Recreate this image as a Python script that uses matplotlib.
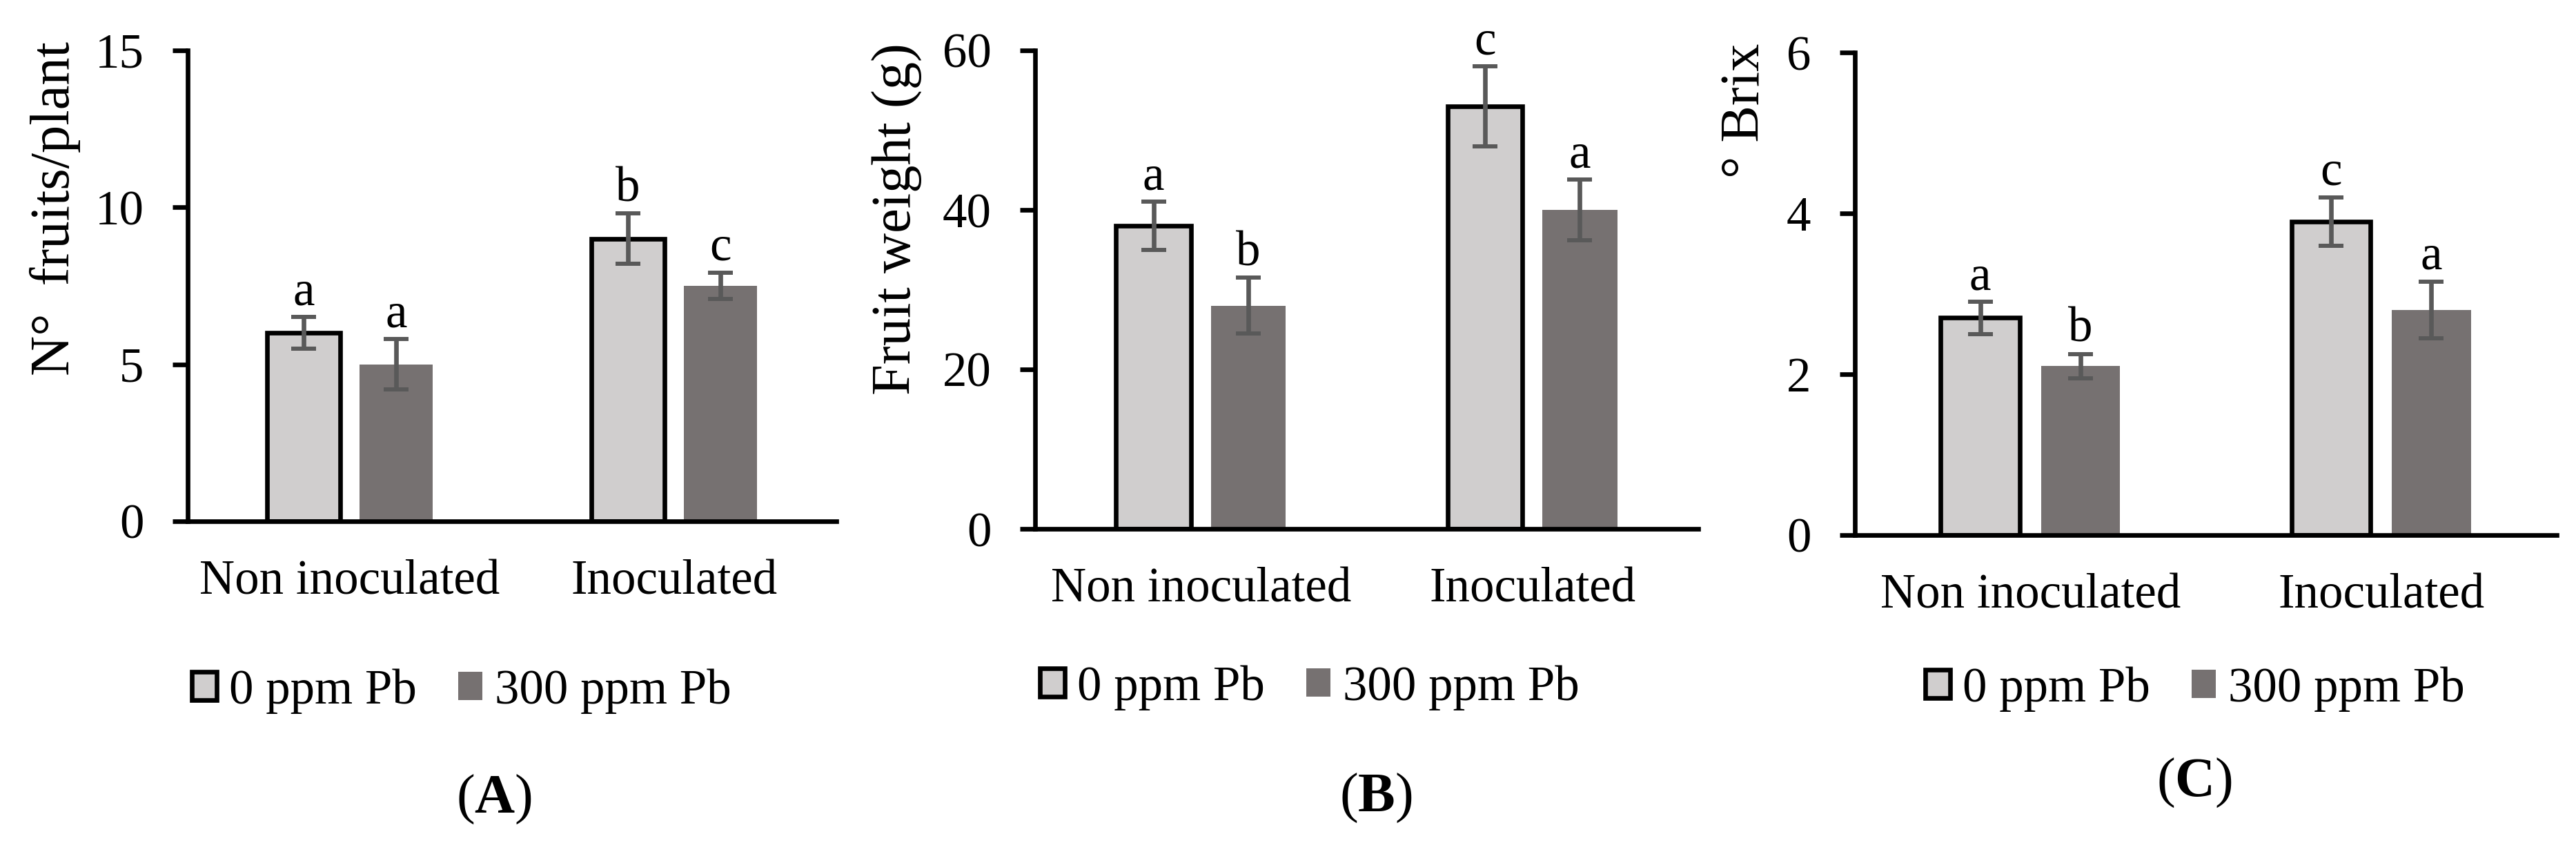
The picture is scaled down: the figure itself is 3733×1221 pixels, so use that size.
import numpy as np
import matplotlib
matplotlib.use('Agg')
import matplotlib.pyplot as plt
from matplotlib.patches import Patch

#-------------------------------------------------------------------------------
# Data
#-------------------------------------------------------------------------------
categories   = ['Non inoculated', 'Inoculated']
series_names = ['0 ppm Pb', '300 ppm Pb']

fruits_0       = [6.0, 9.0]
fruits_0_err   = [0.5, 0.8]
fruits_300     = [5.0, 7.5]
fruits_300_err = [0.8, 0.42]
fruits_let_0   = ['a', 'b']
fruits_let_300 = ['a', 'c']
fruits_ticks   = [0, 5, 10, 15]

weight_0       = [38.0, 53.0]
weight_0_err   = [3.0, 5.0]
weight_300     = [28.0, 40.0]
weight_300_err = [3.5, 3.8]
weight_let_0   = ['a', 'c']
weight_let_300 = ['b', 'a']
weight_ticks   = [0, 20, 40, 60]

brix_0         = [2.7, 3.9]
brix_0_err     = [0.2, 0.3]
brix_300       = [2.1, 2.8]
brix_300_err   = [0.15, 0.35]
brix_let_0     = ['a', 'c']
brix_let_300   = ['b', 'a']
brix_ticks     = [0, 2, 4, 6]

#-------------------------------------------------------------------------------
# Settings
#-------------------------------------------------------------------------------
W, H   = 3733, 1221
dpi    = 100
c_lite = '#D0CECE'
c_dark = '#767171'
c_err  = '#595959'
lw     = 4.8
fs     = 51
fs_big = 58
bar_w  = 0.225
offset = 0.143

plt.rcParams['font.family'] = ['Liberation Serif', 'DejaVu Serif']
plt.rcParams['mathtext.fontset'] = 'custom'
plt.rcParams['mathtext.rm'] = 'Liberation Serif'
plt.rcParams['mathtext.bf'] = 'Liberation Serif:bold'

panels = [
    dict(v0=fruits_0, e0=fruits_0_err, v1=fruits_300, e1=fruits_300_err,
         l0=fruits_let_0, l1=fruits_let_300, ticks=fruits_ticks,
         ylabel='N°  fruits/plant', tag='A',
         box=(272, 1212, 73, 755), ylab_xy=(100, 60), leg_xy=(669, 1001), tag_xy=(716, 1177)),
    dict(v0=weight_0, e0=weight_0_err, v1=weight_300, e1=weight_300_err,
         l0=weight_let_0, l1=weight_let_300, ticks=weight_ticks,
         ylabel='Fruit weight (g)', tag='B',
         box=(1500, 2461, 73, 766), ylab_xy=(1320, 62), leg_xy=(1898, 996), tag_xy=(1994, 1175)),
    dict(v0=brix_0, e0=brix_0_err, v1=brix_300, e1=brix_300_err,
         l0=brix_let_0, l1=brix_let_300, ticks=brix_ticks,
         ylabel='° Brix', tag='C',
         box=(2688, 3705, 76, 775), ylab_xy=(2550, 63), leg_xy=(3181, 998), tag_xy=(3180, 1153)),
]

#-------------------------------------------------------------------------------
# Create figure
#-------------------------------------------------------------------------------
fig = plt.figure(figsize=(W/dpi, H/dpi), dpi=dpi)

for p in panels:
    x0, x1, y0, y1 = p['box']
    ax = fig.add_axes([x0/W, 1 - y1/H, (x1 - x0)/W, (y1 - y0)/H])
    x = np.arange(len(categories))

    err_kw = dict(ecolor=c_err, elinewidth=lw, capsize=13.3, capthick=4.3)
    ax.bar(x - offset, p['v0'], bar_w, color=c_lite, edgecolor='black',
           linewidth=lw, yerr=p['e0'], error_kw=err_kw, zorder=2)
    ax.bar(x + offset, p['v1'], bar_w, color=c_dark, edgecolor='none',
           yerr=p['e1'], error_kw=err_kw, zorder=2)

    # significance letters
    for xi, v, e, t in zip(x - offset, p['v0'], p['e0'], p['l0']):
        ax.annotate(t, (xi, v + e), xytext=(0, 13), textcoords='offset points',
                    ha='center', va='baseline', fontsize=fs, annotation_clip=False)
    for xi, v, e, t in zip(x + offset, p['v1'], p['e1'], p['l1']):
        ax.annotate(t, (xi, v + e), xytext=(0, 13), textcoords='offset points',
                    ha='center', va='baseline', fontsize=fs, annotation_clip=False)

    ax.set_xlim(-0.5, len(categories) - 0.5)
    ax.set_ylim(p['ticks'][0], p['ticks'][-1])
    ax.set_yticks(p['ticks'])
    ax.set_xticks(x)
    ax.set_xticklabels(categories)
    for s in ['top', 'right']:
        ax.spines[s].set_visible(False)
    for s in ['left', 'bottom']:
        ax.spines[s].set_linewidth(lw)
    ax.tick_params(axis='y', length=15.8, width=lw, pad=30, labelsize=fs, direction='out')
    ax.tick_params(axis='x', length=0, pad=40, labelsize=fs)
    ax.set_facecolor('none')

    # y label, top aligned like the original
    fig.text(p['ylab_xy'][0]/W, 1 - p['ylab_xy'][1]/H, p['ylabel'], rotation=90,
             rotation_mode='anchor', ha='right', va='baseline', fontsize=fs_big)

    handles = [Patch(facecolor=c_lite, edgecolor='black', linewidth=lw, label=series_names[0]),
               Patch(facecolor=c_dark, edgecolor='none', label=series_names[1])]
    fig.legend(handles=handles, loc='center', ncol=2, frameon=False, fontsize=fs,
               bbox_to_anchor=(p['leg_xy'][0]/W, 1 - p['leg_xy'][1]/H),
               handlelength=0.5, handleheight=0.5, handletextpad=0.25,
               columnspacing=0.85, borderpad=0, borderaxespad=0)

    fig.text(p['tag_xy'][0]/W, 1 - p['tag_xy'][1]/H, '($\\mathbf{%s}$)' % p['tag'],
             ha='center', va='baseline', fontsize=fs_big)

fig.savefig('out.png', dpi=dpi)
plt.close(fig)
